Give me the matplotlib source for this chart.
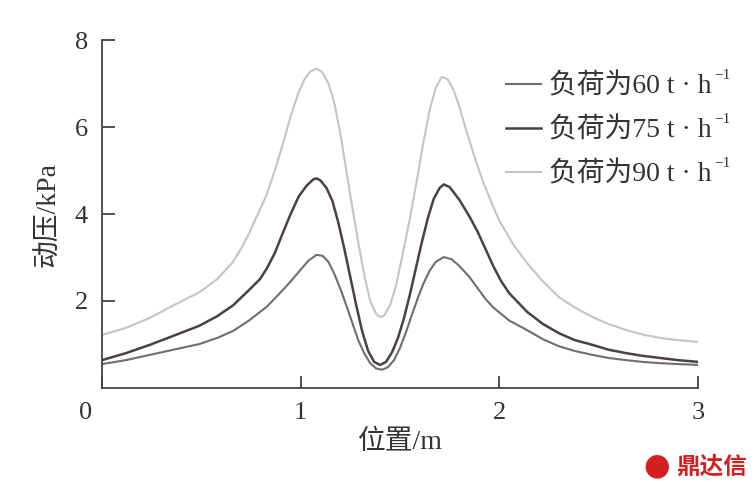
import matplotlib
matplotlib.use("Agg")
import matplotlib.pyplot as plt
import matplotlib.transforms as mtransforms

# values (position in m, dynamic pressure in kPa)
x90 = [0, 0.12, 0.24, 0.36, 0.49, 0.58, 0.66, 0.70, 0.74, 0.78, 0.83, 0.87, 0.91, 0.95,
       0.99, 1.02, 1.05, 1.08, 1.11, 1.14, 1.17, 1.20, 1.23, 1.26, 1.29, 1.32, 1.35, 1.38,
       1.40, 1.42, 1.45, 1.48, 1.51, 1.55, 1.59, 1.62, 1.65, 1.68, 1.71, 1.74, 1.77, 1.80,
       1.835, 1.88, 1.92, 1.97, 2.0, 2.07, 2.14, 2.22, 2.30, 2.38, 2.47, 2.55, 2.64, 2.72,
       2.81, 2.9, 3.0]
y90 = [1.22, 1.38, 1.61, 1.9, 2.2, 2.5, 2.9, 3.2, 3.55, 3.95, 4.45, 5.0, 5.6, 6.25,
       6.8, 7.1, 7.28, 7.34, 7.26, 7.0, 6.55, 5.85, 5.0, 4.15, 3.35, 2.6, 2.0, 1.7,
       1.63, 1.66, 1.9, 2.35, 3.0, 3.9, 4.9, 5.7, 6.4, 6.9, 7.15, 7.1, 6.85, 6.45,
       5.9, 5.25, 4.72, 4.16, 3.85, 3.3, 2.87, 2.45, 2.09, 1.85, 1.63, 1.47, 1.33, 1.23,
       1.15, 1.1, 1.06]

x75 = [0, 0.12, 0.24, 0.36, 0.49, 0.58, 0.66, 0.74, 0.795, 0.83, 0.87, 0.91, 0.95, 0.99,
       1.03, 1.065, 1.08, 1.10, 1.13, 1.16, 1.19, 1.22, 1.25, 1.28, 1.31, 1.34, 1.37,
       1.40, 1.43, 1.46, 1.49, 1.52, 1.55, 1.58, 1.61, 1.64, 1.67, 1.70, 1.72, 1.75,
       1.80, 1.85, 1.89, 1.93, 1.97, 2.01, 2.05, 2.14, 2.22, 2.30, 2.38, 2.47, 2.55,
       2.64, 2.72, 2.81, 2.9, 3.0]
y75 = [0.64, 0.8, 0.99, 1.2, 1.43, 1.65, 1.9, 2.25, 2.5, 2.75, 3.1, 3.56, 4.0, 4.4,
       4.65, 4.8, 4.82, 4.77, 4.6, 4.3, 3.8, 3.2, 2.55, 1.9, 1.3, 0.85, 0.6,
       0.53, 0.6, 0.82, 1.15, 1.6, 2.15, 2.75, 3.35, 3.9, 4.35, 4.6, 4.68, 4.62,
       4.32, 3.94, 3.6, 3.2, 2.8, 2.45, 2.18, 1.75, 1.47, 1.26, 1.1, 0.99, 0.88,
       0.80, 0.74, 0.69, 0.64, 0.6]

x60 = [0, 0.12, 0.24, 0.36, 0.49, 0.58, 0.66, 0.74, 0.83, 0.90, 0.95, 1.0, 1.04, 1.08,
       1.11, 1.14, 1.17, 1.20, 1.23, 1.26, 1.29, 1.32, 1.35, 1.38, 1.41, 1.44, 1.47,
       1.50, 1.53, 1.56, 1.59, 1.62, 1.65, 1.68, 1.72, 1.76, 1.80, 1.85, 1.89, 1.93,
       1.97, 2.05, 2.14, 2.22, 2.30, 2.38, 2.47, 2.55, 2.64, 2.72, 2.81, 2.9, 3.0]
y60 = [0.55, 0.64, 0.76, 0.88, 1.01, 1.15, 1.31, 1.55, 1.87, 2.2, 2.45, 2.72, 2.93, 3.06,
       3.04, 2.9, 2.62, 2.28, 1.9, 1.5, 1.1, 0.8, 0.57, 0.45, 0.42, 0.48, 0.64,
       0.92, 1.28, 1.68, 2.07, 2.42, 2.7, 2.9, 3.01, 2.96, 2.8, 2.55, 2.3, 2.05,
       1.85, 1.55, 1.33, 1.12, 0.96, 0.85, 0.76, 0.69, 0.64, 0.6, 0.57, 0.55, 0.53]

labels = ["负荷为60 t · h", "负荷为75 t · h", "负荷为90 t · h"]
colors = ["#6e6e6e", "#4a4045", "#c4c4c4"]

plt.rcParams["font.family"] = ["Liberation Serif", "Noto Sans CJK SC", "DejaVu Sans"]

fig = plt.figure(figsize=(7.55, 4.94), dpi=100)
ax = fig.add_axes([0.135, 0.2146, 0.7895, 0.7044])

ax.plot(x60, y60, color=colors[0], lw=1.5, label=labels[0])
ax.plot(x75, y75, color=colors[1], lw=1.8, label=labels[1])
ax.plot(x90, y90, color=colors[2], lw=1.5, label=labels[2])

ax.set_xlim(0, 3)
ax.set_ylim(0, 8)
ax.set_xticks([0, 1, 2, 3])
ax.set_yticks([2, 4, 6, 8])
ax.tick_params(direction="in", length=9, width=1.2, labelsize=19, colors="#333333", pad=10)
for s in ["top", "right"]:
    ax.spines[s].set_visible(False)
for s in ["left", "bottom"]:
    ax.spines[s].set_linewidth(1.3)
    ax.spines[s].set_color("#444444")

# the origin label sits a bit left of the axis corner
lbl0 = ax.get_xticklabels()[0]
lbl0.set_transform(lbl0.get_transform() + mtransforms.ScaledTranslation(-0.16, 0, fig.dpi_scale_trans))

ax.set_xlabel("位置/m", fontsize=20, color="#333333", labelpad=4)
ax.set_ylabel("动压/kPa", fontsize=20, color="#333333", labelpad=10)

leg = ax.legend(loc="upper left", bbox_to_anchor=(0.637, 0.902), bbox_transform=fig.transFigure,
                frameon=False, fontsize=20, handlelength=1.25, handletextpad=0.3,
                labelspacing=0.64, labelcolor="#333333")

# raised "-1" after each legend entry
fig.canvas.draw()
renderer = fig.canvas.get_renderer()
for t in leg.get_texts():
    bb = t.get_window_extent(renderer)
    fig.text(bb.x1 + 3, bb.y1 - 2, "−1", fontsize=11, color="#333333",
             ha="left", va="center", transform=mtransforms.IdentityTransform())

fig.text(0.99, 0.03, "鼎达信", color="#d42020", fontsize=17, fontweight="bold",
         ha="right", va="bottom", family=["Noto Sans CJK SC"])
fig.text(0.87, 0.027, "●", color="#d42020", fontsize=22,
         ha="center", va="bottom", family=["DejaVu Sans"])

fig.savefig("out.png", dpi=100)
plt.close(fig)
